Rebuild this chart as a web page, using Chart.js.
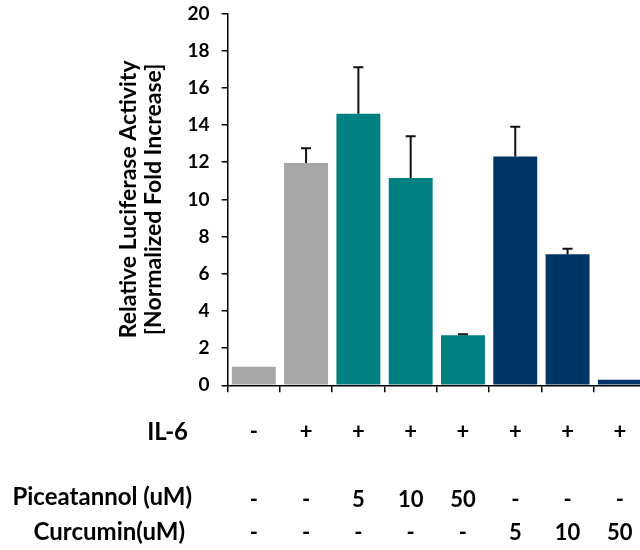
<!DOCTYPE html>
<html>
<head>
<meta charset="utf-8">
<script src="https://cdn.jsdelivr.net/npm/chart.js@4"></script>
<style>
  html, body { margin: 0; padding: 0; overflow: hidden; background: #fff; }
  #wrap { width: 660px; height: 560px; margin-top: -10px; }
</style>
</head>
<body>
<div id="wrap"><canvas id="luciferaseChart"></canvas></div>
<script>
// 処理条件
const il6 = ['-', '+', '+', '+', '+', '+', '+', '+'];
const piceatannol = ['-', '-', '5', '10', '50', '-', '-', '-'];
const curcumin = ['-', '-', '-', '-', '-', '5', '10', '50'];

// 測定値
const activity = [1.0, 11.95, 14.6, 11.15, 2.7, 12.3, 7.05, 0.3];
const errorUp = [0, 0.8, 2.5, 2.25, 0.05, 1.6, 0.3, 0];
const barColors = ['#a6a6a6', '#a6a6a6', '#008080', '#008080', '#008080', '#003366', '#003366', '#003366'];

const yTicks = [0, 2, 4, 6, 8, 10, 12, 14, 16, 18, 20];
const rowNames = ['IL-6', 'Piceatannol (uM)', 'Curcumin(uM)'];

const fontFamily = 'Lato, "Open Sans", sans-serif';

const labels = il6.map((v, i) => [v, '', piceatannol[i], curcumin[i]]);

// エラーバー
const errorBars = {
  id: 'errorBars',
  afterDatasetsDraw(chart) {
    const ctx = chart.ctx;
    const meta = chart.getDatasetMeta(0);
    const y = chart.scales.y;
    ctx.save();
    ctx.strokeStyle = '#111';
    ctx.lineWidth = 2;
    meta.data.forEach((bar, i) => {
      if (!errorUp[i]) return;
      const top = y.getPixelForValue(activity[i] + errorUp[i]);
      const base = y.getPixelForValue(activity[i]);
      ctx.beginPath();
      ctx.moveTo(bar.x, base);
      ctx.lineTo(bar.x, top);
      ctx.moveTo(bar.x - 5, top);
      ctx.lineTo(bar.x + 5, top);
      ctx.stroke();
    });
    ctx.restore();
  }
};

// 左側の行ラベル
const rowLabels = {
  id: 'rowLabels',
  afterDraw(chart) {
    const ctx = chart.ctx;
    const b = chart.chartArea.bottom;
    ctx.save();
    ctx.fillStyle = '#000';
    ctx.font = 'bold 24px ' + fontFamily;
    ctx.textAlign = 'right';
    ctx.textBaseline = 'middle';
    ctx.fillText(rowNames[0], 188, b + 47);
    ctx.fillText(rowNames[1], 192, b + 112);
    ctx.fillText(rowNames[2], 185, b + 147);
    ctx.restore();
  }
};

const ctx = document.getElementById('luciferaseChart');
const myChart = new Chart(ctx, {
  type: 'bar',
  data: {
    labels: labels,
    datasets: [{
      data: activity,
      backgroundColor: barColors,
      borderWidth: 0,
      barPercentage: 0.84,
      categoryPercentage: 1.0
    }]
  },
  options: {
    responsive: true,
    maintainAspectRatio: false,
    animation: false,
    layout: {
      padding: { top: 0, right: 14, left: 116, bottom: -23 }
    },
    scales: {
      x: {
        grid: {
          drawOnChartArea: false,
          drawTicks: true,
          tickLength: 7,
          color: '#000',
          lineWidth: 1.5
        },
        border: { color: '#000', width: 1.5 },
        ticks: {
          color: '#000',
          maxRotation: 0,
          autoSkip: false,
          padding: 23,
          font: { family: fontFamily, size: 22, weight: 'bold', lineHeight: 1.53 }
        }
      },
      y: {
        min: 0,
        max: 20,
        afterBuildTicks: (axis) => { axis.ticks = yTicks.map(v => ({ value: v })); },
        grid: {
          drawOnChartArea: false,
          drawTicks: true,
          tickLength: 6,
          color: '#000',
          lineWidth: 1.5
        },
        border: { color: '#000', width: 1.5 },
        ticks: {
          color: '#000',
          padding: 12,
          font: { family: fontFamily, size: 19, weight: 'bold' }
        },
        title: {
          display: true,
          text: ['Relative Luciferase Activity', '[Normalized Fold Increase]'],
          color: '#000',
          font: { family: fontFamily, size: 23, weight: 'bold', lineHeight: 1.1 },
          padding: { top: 0, bottom: 9 }
        }
      }
    },
    plugins: {
      legend: { display: false },
      tooltip: { enabled: false }
    }
  },
  plugins: [errorBars, rowLabels]
});
</script>
</body>
</html>
